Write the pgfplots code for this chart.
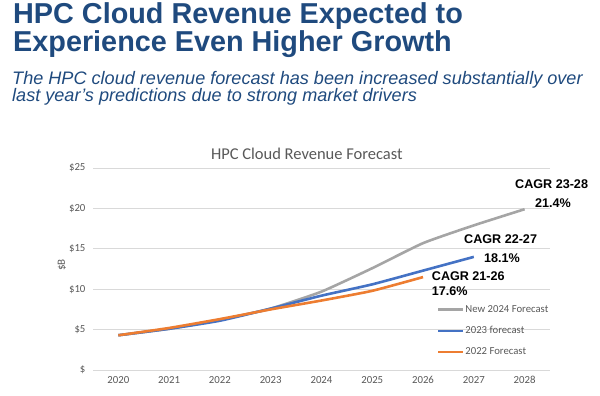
\documentclass[border=0pt]{standalone}
\usepackage{fontspec}
\setmainfont{Liberation Sans}
\newfontfamily\calibri{Carlito}
\usepackage{pgfplots}
\pgfplotsset{compat=1.18}
\definecolor{titleblue}{HTML}{1F4A7E}
\definecolor{sgray}{HTML}{A5A5A5}
\definecolor{sblue}{HTML}{4472C4}
\definecolor{sorange}{HTML}{ED7D31}
\definecolor{txtgray}{HTML}{595959}
\definecolor{gridgray}{HTML}{D9D9D9}
\begin{document}
\begin{tikzpicture}
\useasboundingbox (0pt,0pt) rectangle (600pt,396pt);
\node[anchor=base west, inner sep=0pt, text=titleblue, font=\fontsize{28.8}{28.8}\selectfont\bfseries] at (13pt,372pt) {HPC Cloud Revenue Expected to};
\node[anchor=base west, inner sep=0pt, text=titleblue, font=\fontsize{28.8}{28.8}\selectfont\bfseries] at (13pt,344.5pt) {Experience Even Higher Growth};
\node[anchor=base west, inner sep=0pt, text=titleblue, font=\fontsize{18.1}{18.1}\selectfont\itshape] at (12pt,311pt) {The HPC cloud revenue forecast has been increased substantially over};
\node[anchor=base west, inner sep=0pt, text=titleblue, font=\fontsize{18.1}{18.1}\selectfont\itshape] at (12pt,294pt) {last year’s predictions due to strong market drivers};
\begin{axis}[
  at={(93pt,26pt)}, anchor=south west,
  scale only axis, width=457pt, height=202pt,
  xmin=2019.5, xmax=2028.5, ymin=0, ymax=25,
  xtick={2020,...,2028},
  xticklabels={2020,2021,2022,2023,2024,2025,2026,2027,2028},
  ytick={0,5,10,15,20,25},
  yticklabels={\$,\$5,\$10,\$15,\$20,\$25},
  ymajorgrids, major grid style={gridgray, line width=0.8pt},
  axis line style={draw=none},
  major tick length=0pt,
  tick label style={font=\calibri\fontsize{10.8}{10.8}\selectfont, text=txtgray},
  yticklabel style={xshift=-4pt},
  xticklabel style={yshift=-3pt},
  title={\calibri\fontsize{16.5}{16.5}\selectfont HPC Cloud Revenue Forecast},
  title style={text=txtgray, at={(axis description cs:0.468,1)}, anchor=base, yshift=2pt},
  ylabel={\$B},
  ylabel style={font=\calibri\fontsize{11}{11}\selectfont, text=txtgray, at={(axis description cs:-0.068,0.52)}, anchor=center},
  legend cell align=left,
  legend style={draw=none, fill=none, at={(axis description cs:0.752,0.325)}, anchor=north west,
    inner sep=0pt, row sep=10.5pt, font=\calibri\fontsize{10.7}{10.7}\selectfont, text=txtgray,
    nodes={inner sep=1pt}},
  legend image code/.code={\draw[#1, line width=2.6pt] (0pt,0pt) -- (25pt,0pt);},
  clip=false,
]
\addplot[sgray, line width=2.6pt, smooth, tension=0.3] coordinates {
 (2020,4.3) (2021,5.1) (2022,6.2) (2023,7.6) (2024,9.7) (2025,12.6) (2026,15.7) (2027,17.9) (2028,19.9)};
\addlegendentry{New 2024 Forecast}
\addplot[sblue, line width=2.6pt, smooth, tension=0.3] coordinates {
 (2020,4.3) (2021,5.1) (2022,6.1) (2023,7.6) (2024,9.2) (2025,10.6) (2026,12.3) (2027,14.0)};
\addlegendentry{2023 forecast}
\addplot[sorange, line width=2.6pt, smooth, tension=0.3] coordinates {
 (2020,4.3) (2021,5.2) (2022,6.3) (2023,7.5) (2024,8.6) (2025,9.8) (2026,11.5)};
\addlegendentry{2022 Forecast}
\end{axis}
\begin{scope}[every node/.style={anchor=base west, inner sep=0pt, font=\fontsize{12.6}{12.6}\selectfont\bfseries}]
\node at (515pt,207.7pt) {CAGR 23-28};
\node at (535pt,188.7pt) {21.4\%};
\node at (464pt,152pt) {CAGR 22-27};
\node at (484pt,133.3pt) {18.1\%};
\node at (431.7pt,115.3pt) {CAGR 21-26};
\node at (431.7pt,100.7pt) {17.6\%};
\end{scope}
\end{tikzpicture}
\end{document}
